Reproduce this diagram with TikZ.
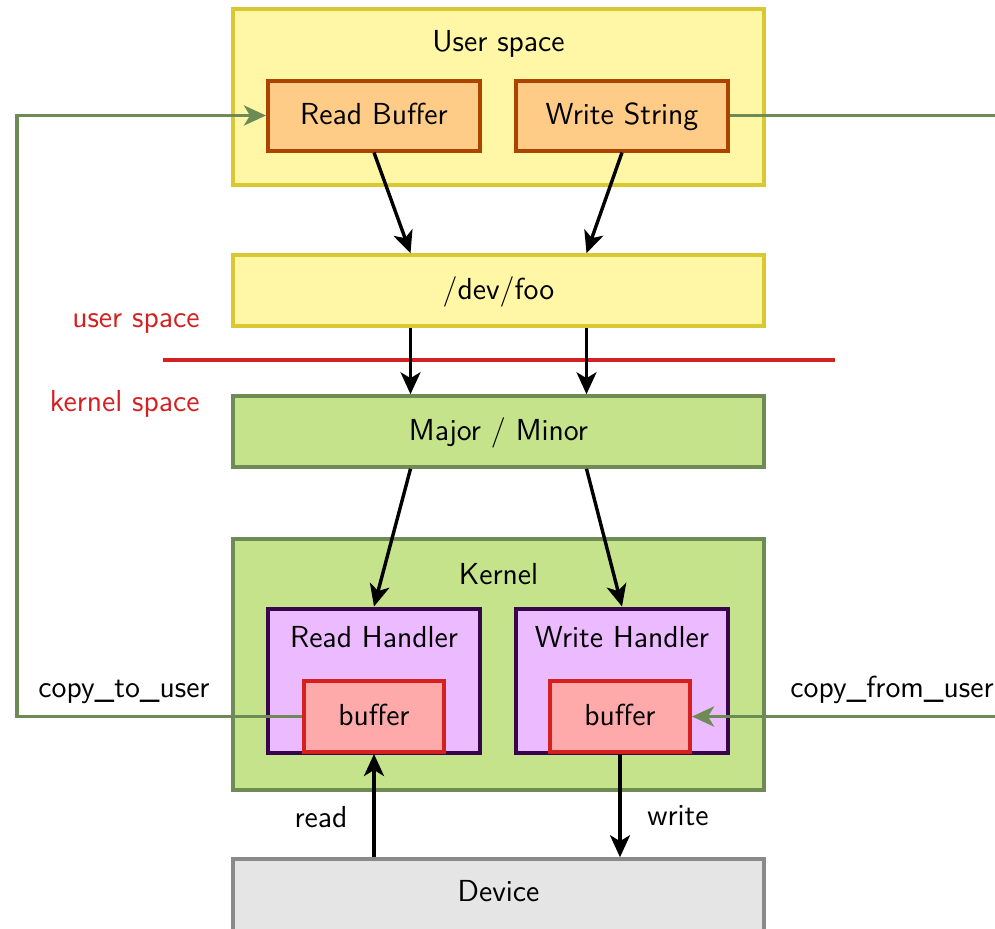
\documentclass[tikz,border=0pt]{standalone}
\usepackage{fontspec}
\usetikzlibrary{arrows.meta,calc}
\definecolor{usrfill}{RGB}{255,246,166}
\definecolor{usrdraw}{RGB}{218,200,50}
\definecolor{bufffill}{RGB}{255,204,136}
\definecolor{buffdraw}{RGB}{170,68,0}
\definecolor{krnfill}{RGB}{197,227,138}
\definecolor{krndraw}{RGB}{110,139,85}
\definecolor{hndfill}{RGB}{236,186,255}
\definecolor{hnddraw}{RGB}{55,5,75}
\definecolor{kbuffill}{RGB}{255,170,170}
\definecolor{kbufdraw}{RGB}{214,32,32}
\definecolor{devfill}{RGB}{229,229,229}
\definecolor{devdraw}{RGB}{138,138,138}
\definecolor{sepred}{RGB}{212,32,32}
\definecolor{copygreen}{RGB}{110,139,85}
\tikzset{
  box/.style={rectangle, inner sep=0pt, line width=1.8pt, text height=9.5pt, text depth=0.5pt,
    font=\sffamily\fontsize{15.2}{18}\selectfont},
  usrbox/.style={box, fill=usrfill, draw=usrdraw},
  appbox/.style={box, fill=bufffill, draw=buffdraw, line width=2pt},
  krnbox/.style={box, fill=krnfill, draw=krndraw},
  hndbox/.style={box, fill=hndfill, draw=hnddraw, line width=2pt},
  kbufbox/.style={box, fill=kbuffill, draw=kbufdraw, line width=2pt},
  devbox/.style={box, fill=devfill, draw=devdraw},
  txt/.style={inner sep=0pt, text height=9.5pt, text depth=0.5pt, font=\sffamily\fontsize{15.2}{18}\selectfont},
  flow/.style={line width=1.7pt, -{Stealth[length=11pt,width=10pt,inset=3pt]}},
  copyline/.style={draw=copygreen, line width=1.9pt},
  copyarrow/.style={copyline, -{Stealth[length=11pt,width=10pt,inset=3pt]}},
}
\begin{document}
\begin{tikzpicture}[x=0.5pt, y=-0.5pt]
\useasboundingbox (0,0) rectangle (995,928);
\clip (0,0) rectangle (995,928);

% user space
\node[usrbox, minimum width=265.5pt, minimum height=88pt] (userspace) at (498.5,97) {};
\node[txt] (userlbl) at (498.5,42) {User space};
\node[appbox, minimum width=106pt, minimum height=35pt] (readbuf) at (374,115.5) {Read Buffer};
\node[appbox, minimum width=106pt, minimum height=35pt] (writestr) at (622,115.5) {Write String};
\node[usrbox, minimum width=265.5pt, minimum height=35.5pt] (devfoo) at (498.5,290.5) {/dev/foo};

% separator between user and kernel space
\coordinate (sepl) at (163,360);
\coordinate (sepr) at (835,360);
\draw[sepred, line width=2.2pt] (sepl) -- (sepr);
\node[txt, text=sepred, anchor=east] (uslbl) at (200,318) {user space};
\node[txt, text=sepred, anchor=east] (kslbl) at (200,402) {kernel space};

% kernel side
\node[krnbox, minimum width=265.5pt, minimum height=35.5pt] (major) at (498.5,431.5) {Major / Minor};
\node[krnbox, minimum width=265.5pt, minimum height=125.5pt] (kernel) at (498.5,664.5) {};
\node[txt] (kernlbl) at (498.5,575) {Kernel};
\node[hndbox, minimum width=106pt, minimum height=72pt] (readh) at (374,680.5) {};
\node[txt] (readhlbl) at (374,638) {Read Handler};
\node[hndbox, minimum width=106pt, minimum height=72pt] (writeh) at (622,680.5) {};
\node[txt] (writehlbl) at (622,638) {Write Handler};
\node[kbufbox, minimum width=70pt, minimum height=35.5pt] (rbuf) at (374,716.5) {buffer};
\node[kbufbox, minimum width=70pt, minimum height=35.5pt] (wbuf) at (620,716.5) {buffer};

% device
\node[devbox, minimum width=265.5pt, minimum height=38pt] (device) at (498.5,897) {};
\node[txt] (devlbl) at (498.5,892) {Device};

% flow arrows
\draw[flow] (readbuf.south) -- ([xshift=-44pt]devfoo.north);
\draw[flow] (writestr.south) -- ([xshift=44pt]devfoo.north);
\draw[flow] ([xshift=-44pt]devfoo.south) -- ([xshift=-44pt]major.north);
\draw[flow] ([xshift=44pt]devfoo.south) -- ([xshift=44pt]major.north);
\draw[flow] ([xshift=-44pt]major.south) -- (readh.north);
\draw[flow] ([xshift=44pt]major.south) -- (writeh.north);
\draw[flow] (rbuf.south |- device.north) -- (rbuf.south);
\draw[flow] (wbuf.south) -- (wbuf.south |- device.north);
\node[txt] (readlbl) at (321,818) {read};
\node[txt] (writelbl) at (678,816) {write};

% copies between kernel and user buffers
\coordinate (leftx) at (17,0);
\coordinate (rightx) at (1010,0);
\draw[copyarrow] (rbuf.west) -- (rbuf.west -| leftx) |- (readbuf.west);
\draw[copyline] (writestr.east) -- (writestr.east -| rightx);
\draw[copyarrow] (wbuf.east -| rightx) -- (wbuf.east);
\node[txt] (ctulbl) at (124,688) {copy\_to\_user};
\node[txt] (cfulbl) at (892,688) {copy\_from\_user};
\end{tikzpicture}
\end{document}
